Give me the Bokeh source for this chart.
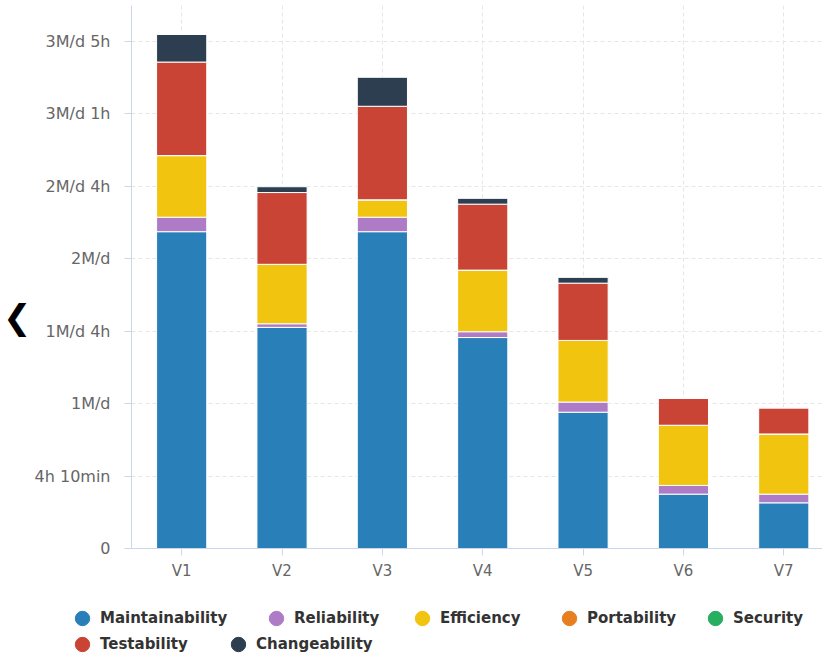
import math
from bokeh.plotting import figure
from bokeh.models import (Range1d, FixedTicker, Legend, LegendItem,
                          ColumnDataSource, LinearAxis)
from bokeh.layouts import column, row
from bokeh.embed import file_html
from bokeh.resources import INLINE

# ---- data (values in units of one y tick step) ----
categories = ["V1", "V2", "V3", "V4", "V5", "V6", "V7"]
maintainability = [4.37, 3.05, 4.37, 2.91, 1.88, 0.75, 0.63]
reliability     = [0.20, 0.05, 0.20, 0.08, 0.14, 0.12, 0.12]
efficiency      = [0.85, 0.82, 0.24, 0.85, 0.85, 0.83, 0.83]
portability     = [0, 0, 0, 0, 0, 0, 0]
security        = [0, 0, 0, 0, 0, 0, 0]
testability     = [1.29, 0.99, 1.29, 0.91, 0.79, 0.37, 0.36]
changeability   = [0.38, 0.08, 0.40, 0.08, 0.08, 0, 0]

series_names = ["Maintainability", "Reliability", "Efficiency", "Portability",
                "Security", "Testability", "Changeability"]
series_colors = ["#2980b9", "#ae7cc6", "#f1c40f", "#e67e22", "#27ae60",
                 "#c94434", "#2c3e50"]

y_ticks = [0, 1, 2, 3, 4, 5, 6, 7]
y_tick_labels = ["0", "4h 10min", "1M/d", "1M/d 4h", "2M/d", "2M/d 4h",
                 "3M/d 1h", "3M/d 5h"]

xs = [i + 0.5 for i in range(len(categories))]
data = dict(x=xs)
keys = ["s%d" % i for i in range(len(series_names))]
for k, vals in zip(keys, [maintainability, reliability, efficiency, portability,
                          security, testability, changeability]):
    data[k] = vals
source = ColumnDataSource(data)

p = figure(x_range=Range1d(0, 6.886), y_range=Range1d(0, 7.49),
           width=822, height=587, output_backend="svg", toolbar_location=None,
           min_border_left=130, min_border_right=0, min_border_top=5,
           min_border_bottom=39)
p.outline_line_color = None

p.vbar_stack(keys, x="x", width=0.5, source=source, color=series_colors,
             line_color="white", line_width=1)

# axes
p.xaxis.ticker = FixedTicker(ticks=xs)
p.xaxis.major_label_overrides = {x: c for x, c in zip(xs, categories)}
p.yaxis.ticker = FixedTicker(ticks=y_ticks)
p.yaxis.major_label_overrides = {t: l for t, l in zip(y_ticks, y_tick_labels)}
for ax in (p.xaxis[0], p.yaxis[0]):
    ax.axis_line_color = "#ccd6eb"
    ax.major_tick_line_color = "#ccd6eb"
    ax.major_tick_out = 7
    ax.major_tick_in = 0
    ax.minor_tick_line_color = None
    ax.major_label_text_color = "#666666"
    ax.major_label_text_font = "DejaVu Sans"
p.yaxis.major_label_text_font_size = "16px"
p.xaxis.major_label_text_font_size = "15px"
p.yaxis.major_label_standoff = 14
p.xaxis.major_label_standoff = 6

p.xgrid.grid_line_color = "#e6e6e6"
p.xgrid.grid_line_dash = "4 3"
p.ygrid.grid_line_color = "#e6e6e6"
p.ygrid.grid_line_dash = "4 3"

# carousel arrow (outer left axis with a single label)
arrow_y = 3.19
arrow_axis = LinearAxis(ticker=FixedTicker(ticks=[arrow_y]),
                        major_label_overrides={arrow_y: "❮"},
                        axis_line_color=None, major_tick_line_color=None,
                        minor_tick_line_color=None, major_tick_out=0,
                        major_tick_in=0, major_label_standoff=0,
                        major_label_text_font="DejaVu Sans",
                        major_label_text_font_style="bold",
                        major_label_text_font_size="34px",
                        major_label_text_color="#000000")
p.add_layout(arrow_axis, "left")

# ---- legend (separate strip below the chart) ----
lg = figure(x_range=Range1d(0, 1), y_range=Range1d(0, 1), width=822, height=66,
            output_backend="svg", toolbar_location=None,
            x_axis_type=None, y_axis_type=None,
            min_border_left=0, min_border_right=0, min_border_top=0,
            min_border_bottom=0)
lg.outline_line_color = None
lg.xgrid.visible = False
lg.ygrid.visible = False

legend_pos = [(73, 26), (267, 26), (413, 26), (560, 26), (706, 26),
              (73, 0), (229, 0)]
for name, col, loc in zip(series_names, series_colors, legend_pos):
    r = lg.ellipse(x=[math.nan], y=[math.nan], width=14, height=14,
                   width_units="screen", height_units="screen",
                   fill_color=col, line_color=col)
    leg = Legend(items=[LegendItem(label=name, renderers=[r])],
                 orientation="horizontal", location=loc,
                 glyph_width=18, glyph_height=18, label_standoff=9,
                 padding=0, margin=0, spacing=0,
                 background_fill_alpha=0, border_line_color=None,
                 label_text_font="DejaVu Sans", label_text_font_style="bold",
                 label_text_font_size="15px", label_text_color="#333333",
                 label_height=18)
    lg.add_layout(leg)

open("out.html", "w").write(file_html(column(p, row(lg)), INLINE))
